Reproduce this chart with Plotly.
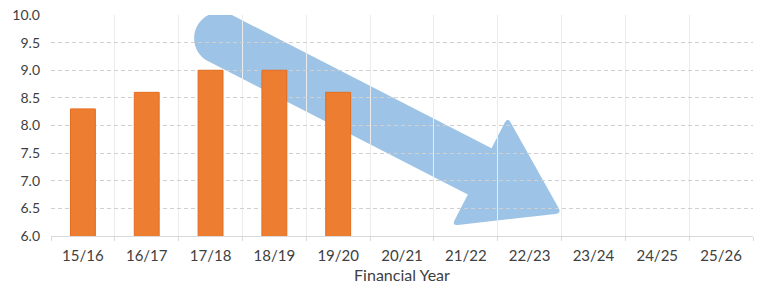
import math
import plotly.graph_objects as go

# ---- data ----
years = ["15/16", "16/17", "17/18", "18/19", "19/20", "20/21",
         "21/22", "22/23", "23/24", "24/25", "25/26"]
bar_years = ["15/16", "16/17", "17/18", "18/19", "19/20"]
bar_values = [8.3, 8.6, 9.0, 9.0, 8.6]
y_tick_vals = [6.0, 6.5, 7.0, 7.5, 8.0, 8.5, 9.0, 9.5, 10.0]
x_title = "Financial Year"

# decorative trend arrow (data units: category index, value)
arrow_tail = (2.15, 9.58)
arrow_tip = (7.5, 6.41)

# ---- layout constants ----
W, H = 768, 293
ML, MR, MT, MB = 51, 15, 15, 57
Y_RANGE = [6, 10]
plot_w = W - ML - MR
plot_h = H - MT - MB
sx = plot_w / len(years)
sy = plot_h / (Y_RANGE[1] - Y_RANGE[0])


def to_px(p):
    return (p[0] * sx, -p[1] * sy)


def to_data(p):
    return (p[0] / sx, -p[1] / sy)


def add(a, b, k=1.0):
    return (a[0] + k * b[0], a[1] + k * b[1])


def unit(a, b):
    dx, dy = b[0] - a[0], b[1] - a[1]
    L = math.hypot(dx, dy)
    return (dx / L, dy / L)


T = to_px(arrow_tail)
P = to_px(arrow_tip)
d = unit(T, P)
n = (d[1], -d[0])
w = 26.0      # shaft half width (px)
HL = 92.0     # head length
HW = 61.0     # head half width
r = 6.0       # corner rounding
k = 0.5523

B = add(P, d, -HL)
pts_fmt = lambda p: "%.4f,%.4f" % to_data(p)

tail_up = add(T, n, w)
notch_up = add(B, n, w)
head_up = add(B, n, HW)
head_lo = add(B, n, -HW)
notch_lo = add(B, n, -w)
tail_lo = add(T, n, -w)
back = add(T, d, -w)


def rounded(prev, c, nxt):
    a = add(c, unit(c, prev), r)
    b = add(c, unit(c, nxt), r)
    return "L" + pts_fmt(a) + " Q" + pts_fmt(c) + " " + pts_fmt(b)


path = "M" + pts_fmt(tail_up)
path += " L" + pts_fmt(notch_up)
path += " " + rounded(notch_up, head_up, P)
path += " " + rounded(head_up, P, head_lo)
path += " " + rounded(P, head_lo, notch_lo)
path += " L" + pts_fmt(notch_lo)
path += " L" + pts_fmt(tail_lo)
c1 = add(tail_lo, d, -k * w)
c2 = add(back, n, -k * w)
path += " C" + pts_fmt(c1) + " " + pts_fmt(c2) + " " + pts_fmt(back)
c3 = add(back, n, k * w)
c4 = add(tail_up, d, -k * w)
path += " C" + pts_fmt(c3) + " " + pts_fmt(c4) + " " + pts_fmt(tail_up)
path += " Z"

TXT = "#404040"
FONT = "Lato"

fig = go.Figure()
fig.add_trace(go.Bar(
    x=bar_years, y=bar_values,
    marker=dict(color="#ed7d31", line=dict(color="#e36c1e", width=1)),
    hoverinfo="skip",
))

fig.add_shape(type="path", path=path, xref="x", yref="y", layer="below",
              fillcolor="#9dc3e6", line=dict(width=0))

fig.update_layout(
    width=W, height=H,
    margin=dict(l=ML, r=MR, t=MT, b=MB, autoexpand=False),
    paper_bgcolor="white", plot_bgcolor="white",
    showlegend=False,
    bargap=0.61,
    font=dict(family=FONT, size=14, color=TXT),
)
fig.update_xaxes(
    type="category", categoryorder="array", categoryarray=years,
    range=[-0.5, len(years) - 0.5],
    automargin=False,
    tickson="boundaries",
    showgrid=True, gridcolor="#ececec", gridwidth=1,
    showline=True, linecolor="#d9d9d9", linewidth=1,
    ticks="outside", ticklen=4, tickcolor="#d9d9d9",
    ticklabelstandoff=6,
    tickfont=dict(family=FONT, size=15, color=TXT),
    title=dict(text=x_title, font=dict(family=FONT, size=16, color=TXT), standoff=6),
    fixedrange=True,
)
fig.update_yaxes(
    range=Y_RANGE, tickvals=y_tick_vals, tickformat=".1f",
    automargin=False,
    showgrid=True, gridcolor="#d0d0d0", gridwidth=1, griddash="4px,3px",
    zeroline=False, showline=False,
    ticks="", ticklabelstandoff=10,
    tickfont=dict(family=FONT, size=14, color=TXT),
    fixedrange=True,
)

fig.write_html("out.html")
